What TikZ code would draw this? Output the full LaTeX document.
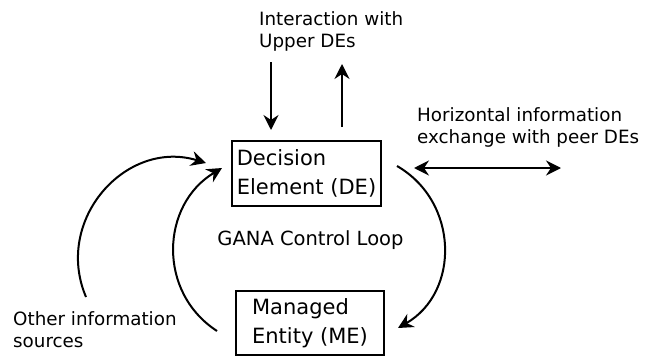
\documentclass[tikz,border=0pt]{standalone}
\usepackage{fontspec}
\setmainfont{DejaVu Sans}
\usetikzlibrary{arrows.meta}
\begin{document}
\begin{tikzpicture}[x=1pt,y=1pt,>={Stealth[length=15pt,width=15pt,inset=5pt]}]

\tikzstyle{box}=[draw, line width=2pt, align=left, inner sep=0pt, font=\fontsize{21}{29}\selectfont]
\tikzstyle{info}=[align=left, inner sep=0pt, font=\fontsize{18.3}{21.5}\selectfont]
\tikzstyle{arrow}=[->, line width=2pt]

\useasboundingbox (0,0) rectangle (651,-356);

\node [box, minimum width=149pt, minimum height=65pt] (decision) at (306.5,-173.5) {Decision\\Element (DE)};
\node [box, minimum width=148pt, minimum height=64pt] (managed) at (310,-323) {Managed\\Entity (ME)};

\node [info, anchor=base west] (label_upper) at (259,-47) {Interaction with\\Upper DEs};
\node [info, anchor=base west] (label_peer) at (417,-143) {Horizontal information\\exchange with peer DEs};
\node [info, anchor=base west] (label_other) at (13,-347) {Other information\\sources};
\node [info, font=\fontsize{19.5}{22}\selectfont, anchor=base] (label_loop) at (310.5,-245) {GANA Control Loop};

\coordinate (other_src) at (86,-297);
\coordinate (peer) at (561,-168);

\draw[arrow] ([xshift=-35.5pt,yshift=78pt]decision.north) -- ([xshift=-35.5pt,yshift=10pt]decision.north);
\draw[arrow] ([xshift=35.5pt,yshift=13pt]decision.north) -- ([xshift=35.5pt,yshift=76pt]decision.north);
\draw[arrow, <->] ([xshift=32pt,yshift=5.5pt]decision.east) -- (peer);

\draw[arrow] ([xshift=15pt,yshift=7.5pt]decision.east) to[out=-30, in=30, looseness=1.13] ([xshift=13pt,yshift=-5pt]managed.east);
\draw[arrow] ([xshift=-18pt,yshift=-8pt]managed.west) to[out=147, in=211, looseness=1.12] ([xshift=-9pt,yshift=5.5pt]decision.west);
\draw[arrow] (other_src) to[out=113, in=163, looseness=1.19] ([xshift=-25pt,yshift=10.5pt]decision.west);

\end{tikzpicture}
\end{document}
